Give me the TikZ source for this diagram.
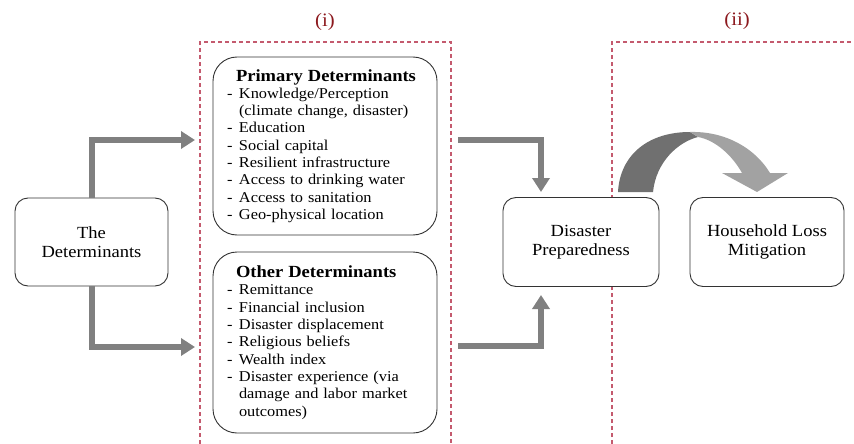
\documentclass[tikz,border=0pt]{standalone}
\usepackage{fontspec}
\setmainfont[FakeStretch=1.09]{Liberation Serif}
\usetikzlibrary{arrows.meta}
\definecolor{dashred}{RGB}{196,90,110}
\definecolor{labred}{RGB}{140,25,30}
\definecolor{arrgray}{RGB}{128,128,128}
\definecolor{darkarc}{RGB}{112,112,112}
\definecolor{lightarc}{RGB}{162,162,162}
\newcommand{\myitem}[1]{\makebox[12pt][l]{-}#1}
\begin{document}
\begin{tikzpicture}[x=1pt,y=-1pt,
  region/.style={draw=dashred,line width=1.4pt,dash pattern=on 4pt off 3pt},
  smallbox/.style={draw=black!80,line width=0.9pt,fill=white,rounded corners=13pt,inner sep=0pt,align=center,font=\fontsize{17}{19.5}\selectfont},
  bigbox/.style={draw=black!80,line width=0.9pt,fill=white,rounded corners=24pt,inner xsep=14pt,inner ysep=0pt,text width=196pt,align=left,font=\fontsize{15}{17.3}\selectfont},
  garrow/.style={draw=arrgray,line width=6pt,-{Triangle[length=14pt,width=17pt]}},
  tag/.style={text=labred,font=\fontsize{19}{20}\selectfont}]
\useasboundingbox (0,0) rectangle (854,444);

% regions
\draw[region] (200,444) -- (200,42) -- (451,42) -- (451,444);
\draw[region] (612,444) -- (612,42) -- (854,42);
\node[tag] (ti) at (325,22) {(i)};
\node[tag] (tii) at (737,21) {(ii)};

% boxes
\node[smallbox,minimum width=153pt,minimum height=88pt] (det) at (91.5,242) {The\\Determinants};
\node[smallbox,minimum width=156pt,minimum height=89pt] (prep) at (581,242) {Disaster\\Preparedness};
\node[smallbox,minimum width=154pt,minimum height=89pt] (hlm) at (767,242) {Household Loss\\Mitigation};

\node[bigbox,minimum height=178pt] (prim) at (325,146) {%
\hspace*{9pt}{\bfseries\fontsize{17}{17.3}\selectfont Primary Determinants}\\
\myitem{Knowledge/Perception}\\
\hspace*{12pt}(climate change, disaster)\\
\myitem{Education}\\
\myitem{Social capital}\\
\myitem{Resilient infrastructure}\\
\myitem{Access to drinking water}\\
\myitem{Access to sanitation}\\
\myitem{Geo-physical location}\par\vspace*{9pt}};

\node[bigbox,minimum height=181pt] (oth) at (325,342.5) {%
\hspace*{9pt}{\bfseries\fontsize{17}{17.3}\selectfont Other Determinants}\\
\myitem{Remittance}\\
\myitem{Financial inclusion}\\
\myitem{Disaster displacement}\\
\myitem{Religious beliefs}\\
\myitem{Wealth index}\\
\myitem{Disaster experience (via}\\
\hspace*{12pt}damage and labor market\\
\hspace*{12pt}outcomes)\par\vspace*{9pt}};

% connectors
\coordinate (u1) at (195,140);
\coordinate (l1) at (195,347);
\draw[garrow] (det.north) |- (u1);
\draw[garrow] (det.south) |- (l1);
\coordinate (u2) at (458,140);
\coordinate (u3) at (541,192);
\draw[garrow] (u2) -| (u3);
\coordinate (l2) at (458,346);
\coordinate (l3) at (541,295);
\draw[garrow] (l2) -| (l3);

% curved block arrow
\fill[darkarc] (618,192) .. controls (620,155) and (648,132) .. (690,132)
  -- (698,137) .. controls (678,142) and (656,162) .. (653,192) -- cycle;
\fill[lightarc] (690,132) .. controls (725,131) and (755,148) .. (770,173)
  -- (788,173) -- (757,192) -- (722,173) -- (742,173)
  .. controls (732,155) and (715,140) .. (698,137) -- cycle;
\end{tikzpicture}
\end{document}
